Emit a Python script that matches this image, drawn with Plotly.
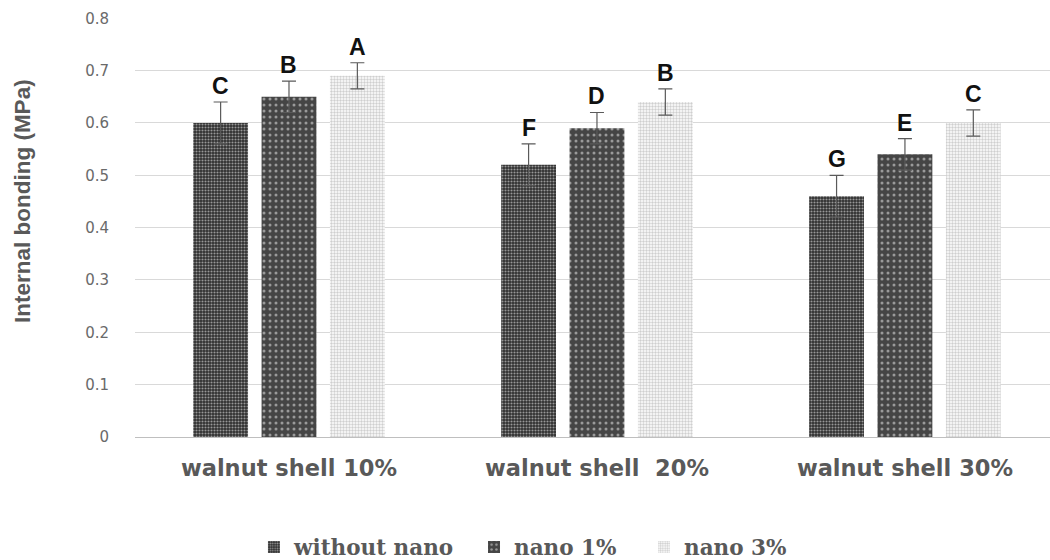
import plotly.graph_objects as go

# Categories and series
categories = ["walnut shell 10%", "walnut shell  20%", "walnut shell 30%"]
series_names = ["without nano", "nano 1%", "nano 3%"]
without_nano = [0.60, 0.52, 0.46]
nano_1 = [0.65, 0.59, 0.54]
nano_3 = [0.69, 0.64, 0.60]
err_without_nano = [0.04, 0.04, 0.04]
err_nano_1 = [0.03, 0.03, 0.03]
err_nano_3 = [0.025, 0.025, 0.025]
letters_without_nano = ["C", "F", "G"]
letters_nano_1 = ["B", "D", "E"]
letters_nano_3 = ["A", "B", "C"]
y_ticks = [0, 0.1, 0.2, 0.3, 0.4, 0.5, 0.6, 0.7, 0.8]
y_tick_text = ["0", "0.1", "0.2", "0.3", "0.4", "0.5", "0.6", "0.7", "0.8"]

values = [without_nano, nano_1, nano_3]
errors = [err_without_nano, err_nano_1, err_nano_3]
letters = [letters_without_nano, letters_nano_1, letters_nano_3]

styles = [
    dict(color="#2e2e2e", pattern=dict(shape=".", bgcolor="#2e2e2e", fgcolor="#ffffff", size=3, solidity=0.4)),
    dict(color="#454545", pattern=dict(shape=".", bgcolor="#454545", fgcolor="#f0f0f0", size=6, solidity=0.2)),
    dict(color="#ffffff", pattern=dict(shape=".", bgcolor="#ffffff", fgcolor="#a0a0a0", size=3, solidity=0.5)),
]

offsets = [-0.222, 0.0, 0.222]
bar_width = 0.178
x_base = list(range(len(categories)))

# one legend box per series so each entry sits at its own spot below the axis
legend_ids = ["legend", "legend2", "legend3"]
legend_x = [0.130, 0.3705, 0.5563]

fig = go.Figure()
for name, vals, errs, st, off, lid in zip(series_names, values, errors, styles, offsets, legend_ids):
    fig.add_trace(go.Bar(
        name=name,
        x=x_base,
        y=vals,
        width=bar_width,
        offset=off - bar_width / 2,
        legend=lid,
        marker=dict(color=st["color"], pattern=st["pattern"], line=dict(width=0)),
        error_y=dict(type="data", array=errs, visible=True, color="#5a5a5a", thickness=1.2, width=7),
    ))

annotations = []
for vals, errs, labs, off in zip(values, errors, letters, offsets):
    for i, (v, e, t) in enumerate(zip(vals, errs, labs)):
        annotations.append(dict(
            x=i + off, y=v + e, xref="x", yref="y", text=t, showarrow=False,
            yanchor="bottom", yshift=1,
            font=dict(family="Liberation Sans, Arial", size=23, color="#111111", weight="bold"),
        ))

annotations.append(dict(
    x=-0.1235, y=0.563, xref="paper", yref="paper", text="Internal bonding (MPa)",
    showarrow=False, textangle=-90, xanchor="center", yanchor="middle",
    font=dict(family="Liberation Sans, Arial", size=22.5, color="#595959", weight="bold"),
))

legend_style = dict(
    orientation="h", xanchor="left",
    yref="container", y=0.023, yanchor="middle",
    font=dict(family="DejaVu Serif", size=21.5, color="#595959", weight="bold"),
    itemwidth=30, tracegroupgap=0, borderwidth=0, bgcolor="rgba(0,0,0,0)",
)

fig.update_layout(
    width=1050, height=560,
    margin=dict(l=135, r=0, t=18, b=123),
    paper_bgcolor="white", plot_bgcolor="white",
    barmode="overlay",
    showlegend=True,
    legend=dict(x=legend_x[0], **legend_style),
    legend2=dict(x=legend_x[1], **legend_style),
    legend3=dict(x=legend_x[2], **legend_style),
    annotations=annotations,
    xaxis=dict(
        range=[-0.5, 2.471], tickvals=x_base, ticktext=categories,
        showgrid=False, showline=True, linecolor="#bfbfbf", linewidth=1,
        ticks="", ticklabelstandoff=11,
        tickfont=dict(family="DejaVu Sans", size=22.5, color="#595959", weight="bold"),
        zeroline=False,
    ),
    yaxis=dict(
        range=[0, 0.8005], tickvals=y_ticks, ticktext=y_tick_text,
        showgrid=True, gridcolor="#d9d9d9", gridwidth=1,
        zeroline=False, showline=False, ticks="",
        ticklabelstandoff=25,
        tickfont=dict(family="DejaVu Sans", size=15, color="#6a6a6a"),
    ),
)

fig.write_html("out.html")
